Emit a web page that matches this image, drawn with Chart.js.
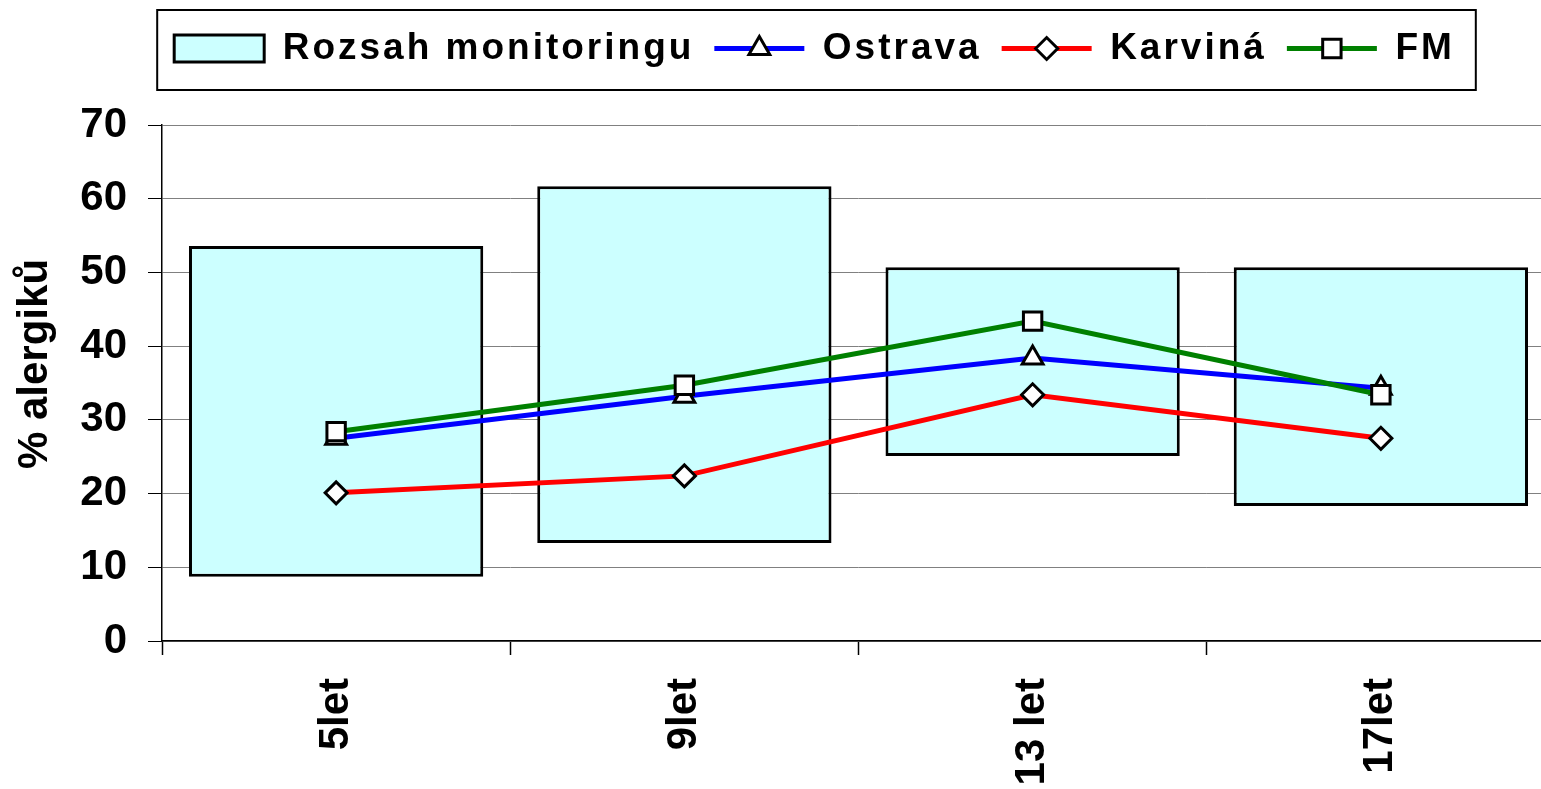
<!DOCTYPE html>
<html>
<head>
<meta charset="utf-8">
<script src="https://cdn.jsdelivr.net/npm/chart.js@4.4.1/dist/chart.umd.min.js"></script>
<style>
	html, body { margin: 0; padding: 0; background: #fff; overflow: hidden; }
	canvas { display: block; }
</style>
</head>
<body>
<canvas id="alergici-chart" width="1571" height="789"></canvas>
<script>

	// values
	var categories = ['5let', '9let', '13 let', '17let'];
	var rangeLow = [8.7, 13.3, 25.1, 18.3];
	var rangeHigh = [53.6, 61.7, 50.7, 50.7];
	var ostrava = [27.5, 33.2, 38.4, 34.3];
	var karvina = [20.1, 22.4, 33.4, 27.5];
	var fm = [28.4, 34.7, 43.4, 33.4];
	var yMin = 0, yMax = 70, yStep = 10;

	var ranges = rangeLow.map(function (lo, i) { return [lo, rangeHigh[i]]; });

	Chart.defaults.font.family = "'Liberation Sans', Arial, sans-serif";
	Chart.defaults.font.weight = 'bold';
	Chart.defaults.font.size = 42;
	Chart.defaults.color = '#000';

	// legend: fixed height, shifted a bit right, wider letter spacing like Excel's stretched text
	var legendLayout = {
		id: 'legendLayout',
		beforeInit: function (chart) {
			var legend = chart.legend;
			var fit = legend.fit;
			var draw = legend.draw;
			legend.fit = function () {
				this.ctx.letterSpacing = '3px';
				fit.call(this);
				this.ctx.letterSpacing = '0px';
				this.height = 115;
			};
			legend.draw = function () {
				this.ctx.letterSpacing = '3px';
				draw.call(this);
				this.ctx.letterSpacing = '0px';
			};
		},
		afterLayout: function (chart) {
			chart.legend.left += 29;
			chart.legend.right += 29;
			// y title sits a little above the middle of the axis in the original
			var ys = chart.scales.y;
			if (!ys._titleMoved) {
				var drawTitle = ys.drawTitle;
				ys.drawTitle = function () {
					this.ctx.save();
					this.ctx.translate(0, -19);
					drawTitle.apply(this, arguments);
					this.ctx.restore();
				};
				ys._titleMoved = true;
			}
		}
	};

	// frame around legend + line/marker swatches for the line series
	var legendMarks = {
		id: 'legendMarks',
		afterDraw: function (chart) {
			var legend = chart.legend;
			var ctx = chart.ctx;
			var boxes = legend.legendHitBoxes;
			var first = boxes[0], last = boxes[boxes.length - 1];
			ctx.save();
			ctx.strokeStyle = '#000';
			ctx.lineWidth = 2;
			var x0 = first.left - 17, x1 = last.left + last.width + 21;
			ctx.strokeRect(x0, 10, x1 - x0, 80);
			legend.legendItems.forEach(function (item, i) {
				var ds = chart.data.datasets[item.datasetIndex];
				if (ds.type !== 'line') return;
				var hb = boxes[i];
				var y = hb.top + hb.height / 2;
				ctx.strokeStyle = ds.borderColor;
				ctx.lineWidth = 5;
				ctx.beginPath();
				ctx.moveTo(hb.left, y);
				ctx.lineTo(hb.left + 90, y);
				ctx.stroke();
				ctx.fillStyle = '#fff';
				ctx.strokeStyle = '#000';
				ctx.lineWidth = 3;
				Chart.helpers.drawPoint(ctx, {
					pointStyle: ds.pointStyle, radius: ds.pointRadius, borderWidth: 3, rotation: 0
				}, hb.left + 45, y);
			});
			ctx.restore();
		}
	};

	function lineSeries(label, data, color, style, radius, order) {
		return {
			type: 'line',
			label: label,
			data: data,
			borderColor: color,
			borderWidth: 5,
			pointStyle: style,
			pointRadius: radius,
			pointBackgroundColor: '#fff',
			pointBorderColor: '#000',
			pointBorderWidth: 3,
			tension: 0,
			fill: false,
			order: order
		};
	}

	new Chart(document.getElementById('alergici-chart'), {
		data: {
			labels: categories,
			datasets: [
				{
					type: 'bar',
					label: 'Rozsah monitoringu',
					data: ranges,
					backgroundColor: '#CCFFFF',
					borderColor: '#000',
					borderWidth: 3,
					borderSkipped: false,
					barPercentage: 0.845,
					categoryPercentage: 1,
					order: 1
				},
				lineSeries('Ostrava', ostrava, '#0000FF', 'triangle', 12, 0.3),
				lineSeries('Karviná', karvina, '#FF0000', 'rectRot', 11, 0.2),
				lineSeries('FM', fm, '#008000', 'rect', 13, 0.1)
			]
		},
		options: {
			responsive: false,
			animation: false,
			events: [],
			layout: { padding: { top: 10, left: 0, right: 0, bottom: 0 } },
			plugins: {
				tooltip: { enabled: false },
				legend: {
					position: 'top',
					labels: {
						font: { size: 37 },
						boxWidth: 90,
						boxHeight: 27,
						padding: 20,
						sort: function (a, b) { return a.datasetIndex - b.datasetIndex; },
						generateLabels: function (chart) {
							var items = Chart.defaults.plugins.legend.labels.generateLabels(chart);
							items.forEach(function (it) {
								if (chart.data.datasets[it.datasetIndex].type === 'line') {
									it.fillStyle = 'rgba(0,0,0,0)';
									it.strokeStyle = 'rgba(0,0,0,0)';
									it.lineWidth = 0;
								}
							});
							return items;
						}
					}
				}
			},
			scales: {
				x: {
					offset: true,
					grid: { offset: true, drawOnChartArea: false, tickLength: 14, tickColor: '#000', tickWidth: 1.5 },
					border: { color: '#000', width: 1.5 },
					ticks: { minRotation: 90, maxRotation: 90, autoSkip: false, padding: 23 },
					afterFit: function (scale) {
						scale.height = 148;
						scale.paddingLeft = 0;
						scale.paddingRight = 0;
					}
				},
				y: {
					min: yMin,
					max: yMax,
					ticks: { stepSize: yStep, padding: 21 },
					grid: { color: '#808080', lineWidth: 1, tickLength: 14, tickColor: '#000' },
					border: { color: '#000', width: 1.5 },
					title: { display: true, text: '% alergiků', padding: { top: 10, bottom: 0 } },
					afterFit: function (scale) { scale.width = 162; }
				}
			}
		},
		plugins: [legendLayout, legendMarks]
	});

</script>
</body>
</html>
